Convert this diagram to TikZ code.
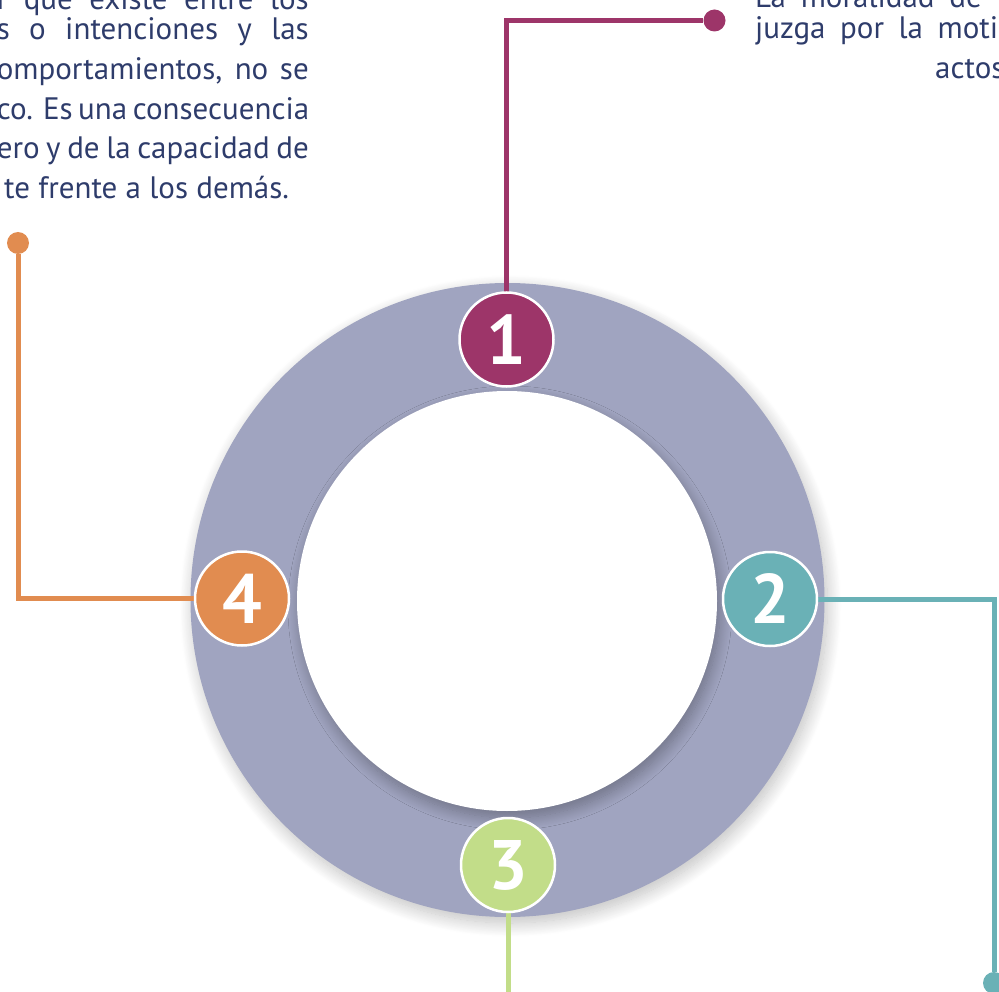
\documentclass[tikz,border=0pt]{standalone}
\usepackage{fontspec}
\setmainfont{PT Sans}
\newfontfamily\badgefont{PT Sans Bold}
\usetikzlibrary{shadows.blur}
\definecolor{ringc}{HTML}{A0A4C0}
\definecolor{cone}{HTML}{9D3569}
\definecolor{ctwo}{HTML}{6AB1B6}
\definecolor{cthree}{HTML}{C2DD89}
\definecolor{cfour}{HTML}{E18C50}
\definecolor{txtc}{HTML}{2E3C6B}
\begin{document}
\begin{tikzpicture}[x=1pt,y=-1pt,
  badge/.style={circle, draw=white, line width=2.5pt, minimum size=94pt, inner sep=0pt,
    text=white, font=\badgefont\fontsize{70}{70}\selectfont},
  dotnode/.style={circle, minimum size=22pt, inner sep=0pt},
  link/.style={line width=5pt},
  para/.style={inner sep=0pt, text=txtc, font=\fontsize{31}{40}\selectfont}
]
\useasboundingbox (0,0) rectangle (999,992);
\clip (0,0) rectangle (999,992);

% ring
\fill[ringc, blur shadow={shadow xshift=3pt, shadow yshift=-6pt, shadow blur radius=14pt, shadow blur steps=20, shadow opacity=25}]
  (507.5,600) circle[radius=317pt];
\fill[white, blur shadow={shadow xshift=3pt, shadow yshift=-7pt, shadow blur radius=12pt, shadow blur steps=20, shadow opacity=30}]
  (507,601) circle[radius=210pt];

% dots and end points
\node[dotnode, fill=cone] (d1) at (714.5,20.5) {};
\node[dotnode, fill=ctwo] (d2) at (994,983) {};
\node[dotnode, fill=cfour] (d4) at (18,243) {};
\coordinate (e3) at (508,1000);

% badge positions
\coordinate (p1) at (506.5,339.5);
\coordinate (p2) at (770,599);
\coordinate (p3) at (508,865);
\coordinate (p4) at (242,598.5);

% connectors
\draw[link, cone] (p1) |- (d1);
\draw[link, ctwo] (p2) -| (d2);
\draw[link, cthree] (p3) -- (e3);
\draw[link, cfour] (p4) -| (d4);

% badges
\node[badge, fill=cone] (b1) at (p1) {1};
\node[badge, fill=ctwo] (b2) at (p2) {2};
\node[badge, fill=cthree] (b3) at (p3) {3};
\node[badge, fill=cfour] (b4) at (p4) {4};

% top-left paragraph
\node[para, anchor=base east] (l1) at (309,10) {\makebox[312pt][s]{r que existe entre los}};
\node[para, anchor=base east] (l2) at (309,40) {\makebox[312pt][s]{s o intenciones y las}};
\node[para, anchor=base east] (l3) at (309,80) {\makebox[312pt][s]{omportamientos, no se}};
\node[para, anchor=base east] (l4) at (309,119.5) {\makebox[312pt][s]{co. Es una consecuencia}};
\node[para, anchor=base east] (l5) at (309,159) {\makebox[312pt][s]{ero y de la capacidad de}};
\node[para, anchor=base west] (l6) at (4,199) {te frente a los demás.};

% top-right paragraph
\node[para, anchor=base west] (r1) at (755,8) {\makebox[252pt][s]{La moralidad de t}};
\node[para, anchor=base west] (r2) at (755,39) {\makebox[243pt][s]{juzga por la moti}};
\node[para, anchor=base west] (r3) at (935,79) {actos};
\end{tikzpicture}
\end{document}
